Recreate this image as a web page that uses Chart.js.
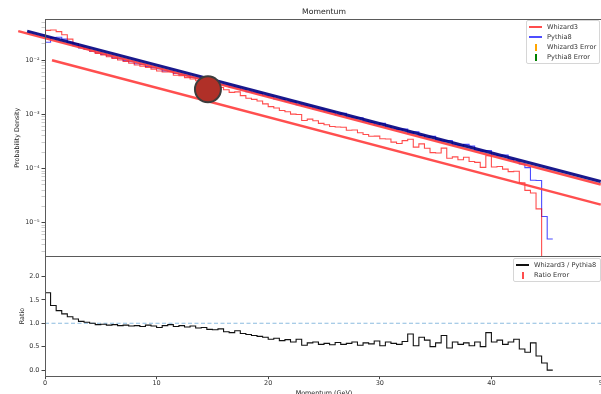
<!DOCTYPE html>
<html>
<head>
<meta charset="utf-8">
<script src="https://cdn.jsdelivr.net/npm/chart.js@4.4.0/dist/chart.umd.min.js"></script>
<style>
  html, body { margin: 0; padding: 0; background: #fff; }
  #wrap { position: relative; width: 601px; height: 394px; overflow: hidden; }
  canvas { position: absolute; left: 0; }
  #topChart { top: 0; }
  #ratioChart { top: 250px; }
  .legend { position: absolute; border: 1px solid #d6d6d6; border-radius: 2px; background: rgba(255,255,255,0.85);
            font-family: 'DejaVu Sans'; font-size: 6.6px; color: #333; padding: 1px 0; box-sizing: content-box; }
  .legend .row { display: flex; align-items: center; height: 10px; white-space: nowrap; }
  .legend .mark { position: relative; width: 13px; height: 10px; margin: 0 5px 0 2px; flex: none; }
  .mark.line::after { content: ''; position: absolute; left: 0; right: 0; top: 4px; height: 2px; background: var(--c); }
  .mark.bar::after { content: ''; position: absolute; left: 6px; top: 2px; width: 1.5px; height: 7px; background: var(--c); }
  #topLegend { left: 526px; top: 20px; width: 72px; }
  #ratioLegend { left: 513px; top: 258px; width: 86px; }
</style>
</head>
<body>
<div id="wrap">
  <canvas id="topChart" width="610" height="260"></canvas>
  <canvas id="ratioChart" width="610" height="152"></canvas>
  <div id="topLegend" class="legend"></div>
  <div id="ratioLegend" class="legend"></div>
</div>
<script>
// histogram bins: 0.5 GeV wide, starting at 0
const binWidth = 0.5;

const pythia8 = [
  0.0215, 0.0262, 0.0265, 0.0245, 0.0215, 0.0186, 0.0169, 0.0159, 0.0146, 0.0137,
  0.0128, 0.0121, 0.0111, 0.0106, 0.00984, 0.00935, 0.00859, 0.00835, 0.00767, 0.00729,
  0.00693, 0.00636, 0.00626, 0.00569, 0.00546, 0.00519, 0.00478, 0.00464, 0.00426, 0.00405,
  0.00389, 0.00357, 0.00348, 0.00319, 0.00310, 0.00285, 0.00262, 0.00255, 0.00244, 0.00223,
  0.00211, 0.00192, 0.00188, 0.00173, 0.00168, 0.00151, 0.00145, 0.00141, 0.00127, 0.00124,
  0.00113, 0.00111, 0.000991, 0.00105, 0.000894, 0.000858, 0.000865, 0.000734, 0.000705, 0.000641,
  0.000681, 0.000585, 0.000538, 0.000528, 0.000537, 0.000451, 0.000478, 0.000407, 0.000370, 0.000393,
  0.000334, 0.000321, 0.000330, 0.000274, 0.000263, 0.000279, 0.000259, 0.000217, 0.000210, 0.000215,
  0.000178, 0.000171, 0.000177, 0.000146, 0.000135, 0.000121, 0.000104, 0.000061, 0.000060, 0.000013,
  0.000005
];

const whizard3 = [
  0.0355, 0.0362, 0.0337, 0.0294, 0.0245, 0.0203, 0.0176, 0.0162, 0.0146, 0.0133,
  0.0125, 0.0116, 0.0108, 0.0101, 0.00945, 0.00879, 0.00816, 0.00777, 0.00736, 0.00685,
  0.00631, 0.00604, 0.00607, 0.00529, 0.00519, 0.00477, 0.00449, 0.00418, 0.00388, 0.00352,
  0.00335, 0.00314, 0.00285, 0.00255, 0.00260, 0.00222, 0.00199, 0.00189, 0.00176, 0.00156,
  0.00139, 0.00131, 0.00118, 0.00112, 0.00101, 0.000997, 0.000769, 0.000818, 0.000762, 0.000682,
  0.000644, 0.000599, 0.000585, 0.000578, 0.000510, 0.000515, 0.000458, 0.000426, 0.000395, 0.000397,
  0.000354, 0.000351, 0.000307, 0.000290, 0.000328, 0.000347, 0.000249, 0.000285, 0.000237, 0.000197,
  0.000194, 0.000238, 0.000155, 0.000164, 0.000145, 0.000162, 0.000135, 0.000130, 0.000105, 0.000172,
  0.000107, 0.000109, 0.0000974, 0.0000876, 0.0000891, 0.0000545, 0.0000395, 0.0000354, 0.0000180, 0.00000195,
  0
];

const ratio = [
  1.65, 1.38, 1.27, 1.20, 1.14, 1.09, 1.04, 1.02, 1.00, 0.97,
  0.98, 0.96, 0.97, 0.95, 0.96, 0.94, 0.95, 0.93, 0.96, 0.94,
  0.91, 0.95, 0.97, 0.93, 0.95, 0.92, 0.94, 0.90, 0.91, 0.87,
  0.86, 0.88, 0.82, 0.80, 0.84, 0.78, 0.76, 0.74, 0.72, 0.70,
  0.66, 0.68, 0.63, 0.65, 0.60, 0.66, 0.53, 0.58, 0.60, 0.55,
  0.57, 0.54, 0.59, 0.55, 0.57, 0.60, 0.53, 0.58, 0.56, 0.62,
  0.52, 0.60, 0.57, 0.55, 0.61, 0.77, 0.52, 0.70, 0.64, 0.50,
  0.58, 0.74, 0.47, 0.60, 0.55, 0.58, 0.52, 0.60, 0.50, 0.80,
  0.60, 0.64, 0.55, 0.60, 0.66, 0.45, 0.38, 0.58, 0.30, 0.15,
  0
];

// straight overlay lines and the marker, in data units
const navyLine = [{x: -1.6, y: 0.0344}, {x: 49.8, y: 5.75e-5}];
const redUpperLine = [{x: -2.4, y: 0.0344}, {x: 49.8, y: 5.06e-5}];
const redLowerLine = [{x: 0.63, y: 0.01}, {x: 49.8, y: 2.16e-5}];
const marker = [{x: 14.6, y: 2.9e-3}];
const ratioRef = [{x: 0, y: 1}, {x: 50, y: 1}];

// axis ticks
const xTicks = [0, 10, 20, 30, 40, 50];
const topMajorTicks = [1e-5, 1e-4, 1e-3, 1e-2];
const topTickLabels = ['10⁻⁵', '10⁻⁴', '10⁻³', '10⁻²'];
const ratioTicks = [0, 0.5, 1, 1.5, 2];
const ratioTickLabels = ['0.0', '0.5', '1.0', '1.5', '2.0'];

const whizColor = 'rgba(255,0,0,0.7)';
const pythiaColor = 'rgba(0,0,255,0.7)';

Chart.defaults.font.family = 'DejaVu Sans';
Chart.defaults.color = '#333';

// step histogram points: left edges + closing right edge
function stepPoints(vals) {
  const pts = vals.map((v, i) => ({x: i * binWidth, y: v}));
  pts.push({x: vals.length * binWidth, y: vals[vals.length - 1]});
  return pts;
}

const framePlugin = {
  id: 'frame',
  afterDatasetsDraw(chart) {
    const {ctx, chartArea: a} = chart;
    const l = Math.round(a.left) + 0.5, t = Math.round(a.top) + 0.5;
    const r = Math.round(a.right) + 0.5, b = Math.round(a.bottom) + 0.5;
    ctx.save();
    ctx.strokeStyle = '#5a5a5a';
    ctx.lineWidth = 1;
    ctx.strokeRect(l, t, r - l, b - t);
    ctx.restore();
  }
};

// minor log ticks between the decades
const topTicks = [];
for (let e = -6; e <= -2; e++) {
  for (let m = 1; m <= 9; m++) {
    const v = m * Math.pow(10, e);
    if (v >= 2.4e-6 && v <= 0.0575) topTicks.push({value: v, major: m === 1});
  }
}

const topChart = new Chart(document.getElementById('topChart'), {
  type: 'line',
  data: {
    datasets: [
      {type: 'scatter', data: marker, pointRadius: 13, pointBackgroundColor: '#b03028',
       pointBorderColor: '#3d3d3d', pointBorderWidth: 2, order: 0, clip: false},
      {data: navyLine, borderColor: 'rgba(0,0,128,0.9)', borderWidth: 3, pointRadius: 0, clip: false, order: 1},
      {data: redUpperLine, borderColor: 'rgba(255,60,60,0.9)', borderWidth: 2.5, pointRadius: 0, clip: false, order: 2},
      {data: redLowerLine, borderColor: 'rgba(255,60,60,0.9)', borderWidth: 2.5, pointRadius: 0, clip: false, order: 2},
      {label: 'Whizard3', data: stepPoints(whizard3), borderColor: whizColor, borderWidth: 1.1,
       stepped: 'before', pointRadius: 0, order: 3},
      {label: 'Pythia8', data: stepPoints(pythia8), borderColor: pythiaColor, borderWidth: 1.1,
       stepped: 'before', pointRadius: 0, order: 4}
    ]
  },
  options: {
    responsive: false,
    animation: false,
    layout: {autoPadding: false, padding: {left: 0, right: 7, top: 0, bottom: 3.7}},
    plugins: {
      legend: {display: false},
      tooltip: {enabled: false},
      title: {display: true, text: 'Momentum', fullSize: false, color: '#222',
              font: {size: 7.7, weight: 'normal'}, padding: {top: 7.5, bottom: 2.3}}
    },
    scales: {
      x: {type: 'linear', min: 0, max: 50, display: false},
      y: {
        type: 'logarithmic', min: 2.4e-6, max: 0.0575,
        afterBuildTicks: s => { s.ticks = topTicks.map(t => ({value: t.value, major: t.major})); },
        afterFit: s => { s.width = 45; s.paddingTop = 0; s.paddingBottom = 0; },
        ticks: {
          font: {size: 6.5}, color: '#333', padding: 2, autoSkip: false,
          callback: v => {
            const i = topMajorTicks.findIndex(m => Math.abs(m - v) / m < 1e-6);
            return i >= 0 ? topTickLabels[i] : '';
          }
        },
        grid: {drawOnChartArea: false, tickLength: 3.5,
               tickColor: c => (c.tick && c.tick.major) ? '#444' : '#aaa',
               tickWidth: c => (c.tick && c.tick.major) ? 1 : 0.6},
        border: {display: false},
        title: {display: true, text: 'Probability Density', color: '#222', font: {size: 6.4},
                padding: {top: 13.6, bottom: 0}}
      }
    }
  },
  plugins: [framePlugin]
});

const ratioChart = new Chart(document.getElementById('ratioChart'), {
  type: 'line',
  data: {
    datasets: [
      {label: 'Whizard3 / Pythia8', data: stepPoints(ratio), borderColor: '#111', borderWidth: 1.1,
       stepped: 'before', pointRadius: 0, order: 0},
      {data: ratioRef, borderColor: 'rgba(110,170,215,0.8)', borderWidth: 1, borderDash: [4, 2.5],
       pointRadius: 0, order: 1}
    ]
  },
  options: {
    responsive: false,
    animation: false,
    layout: {autoPadding: false, padding: {left: 0, right: 7, top: 6.3, bottom: 0}},
    plugins: {legend: {display: false}, tooltip: {enabled: false}},
    scales: {
      x: {
        type: 'linear', min: 0, max: 50,
        afterBuildTicks: s => { s.ticks = xTicks.map(v => ({value: v})); },
        afterFit: s => { s.height = 26.3; s.paddingLeft = 0; s.paddingRight = 0; },
        ticks: {font: {size: 6.5}, color: '#333', padding: 0, maxRotation: 0, autoSkip: false,
                callback: v => String(v)},
        grid: {drawOnChartArea: false, tickLength: 3.5, tickColor: '#444'},
        border: {display: false},
        title: {display: true, text: 'Momentum (GeV)', color: '#222', font: {size: 6.4},
                padding: {top: 2, bottom: 5.2}}
      },
      y: {
        min: -0.12, max: 2.43,
        afterBuildTicks: s => { s.ticks = ratioTicks.map(v => ({value: v})); },
        afterFit: s => { s.width = 45; s.paddingTop = 0; s.paddingBottom = 0; },
        ticks: {font: {size: 6.5}, color: '#333', padding: 2, autoSkip: false,
                callback: v => ratioTickLabels[ratioTicks.indexOf(v)]},
        grid: {drawOnChartArea: false, tickLength: 3.5, tickColor: '#444'},
        border: {display: false},
        title: {display: true, text: 'Ratio', color: '#222', font: {size: 6.4},
                padding: {top: 19, bottom: 0}}
      }
    }
  },
  plugins: [framePlugin]
});

// legends drawn as html boxes inside the plot areas
const topLegendItems = [
  {label: 'Whizard3', color: '#ff4d4d', kind: 'line'},
  {label: 'Pythia8', color: '#4d4dff', kind: 'line'},
  {label: 'Whizard3 Error', color: '#ffa500', kind: 'bar'},
  {label: 'Pythia8 Error', color: '#008000', kind: 'bar'}
];
const ratioLegendItems = [
  {label: 'Whizard3 / Pythia8', color: '#111', kind: 'line'},
  {label: 'Ratio Error', color: '#ff4d4d', kind: 'bar'}
];

function buildLegend(id, items) {
  const box = document.getElementById(id);
  items.forEach(it => {
    const row = document.createElement('div');
    row.className = 'row';
    const mark = document.createElement('span');
    mark.className = 'mark ' + it.kind;
    mark.style.setProperty('--c', it.color);
    const txt = document.createElement('span');
    txt.textContent = it.label;
    row.append(mark, txt);
    box.appendChild(row);
  });
}
buildLegend('topLegend', topLegendItems);
buildLegend('ratioLegend', ratioLegendItems);
</script>
</body>
</html>
